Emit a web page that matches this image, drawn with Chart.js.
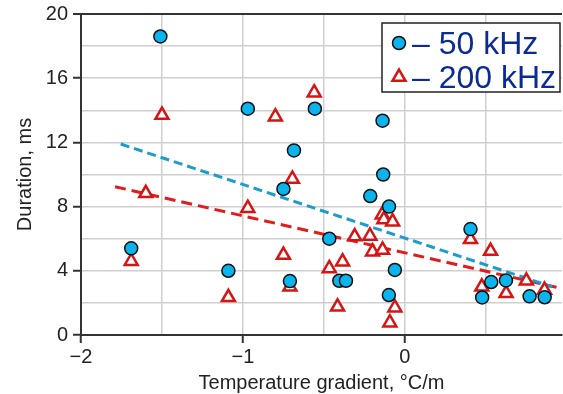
<!DOCTYPE html>
<html>
<head>
<meta charset="utf-8">
<script src="https://cdn.jsdelivr.net/npm/chart.js@4.4.1/dist/chart.umd.min.js"></script>
<style>
  html, body { margin: 0; padding: 0; background: #fff; overflow: hidden; }
  #wrap { position: relative; width: 563px; height: 394px; }
</style>
</head>
<body>
<div id="wrap"><canvas id="durationChart"></canvas></div>
<script>
// 50 kHz measurements (gradient, duration)
const grad50 = [-1.69, -1.51, -1.09, -0.97, -0.75, -0.71, -0.685, -0.556, -0.467, -0.405, -0.364,
                -0.214, -0.138, -0.134, -0.098, -0.062, -0.099, 0.405, 0.477, 0.533, 0.624, 0.77, 0.863];
const dur50  = [5.4, 18.6, 4.0, 14.1, 9.1, 3.36, 11.5, 14.1, 6.0, 3.38, 3.38,
                8.66, 13.35, 10.0, 8.0, 4.05, 2.49, 6.6, 2.34, 3.3, 3.4, 2.41, 2.35];

// 200 kHz measurements
const grad200 = [-1.69, -1.6, -1.5, -1.09, -0.97, -0.8, -0.75, -0.71, -0.695, -0.56, -0.467, -0.416,
                 -0.385, -0.31, -0.216, -0.2, -0.138, -0.14, -0.13, -0.076, -0.062, -0.093,
                 0.405, 0.475, 0.529, 0.625, 0.75, 0.862];
const dur200  = [4.6, 8.83, 13.7, 2.35, 7.9, 13.6, 4.98, 3.0, 9.72, 15.1, 4.15, 1.76,
                 4.57, 6.13, 6.17, 5.19, 5.3, 7.5, 7.2, 7.06, 1.7, 0.77,
                 5.96, 3.0, 5.23, 2.6, 3.38, 2.8];

// linear fits, end points
const fit50X  = [-1.755, 0.91];
const fit50Y  = [11.9, 3.0];
const fit200X = [-1.79, 0.936];
const fit200Y = [9.24, 2.97];

const xGrid   = [-2, -1.5, -1, -0.5, 0, 0.5];
const xLabels = [-2, -1, 0];
const yLabels = [0, 4, 8, 12, 16, 20];
const seriesNames = ["50 kHz", "200 kHz"];

const BLUE_FILL = "#0cb4ee";
const RED = "#d61414";
const AXIS = "#333333";
const GRID = "#cfcfcf";
const FONT = "Arial, 'Liberation Sans', sans-serif";

const toPoints = (xs, ys) => xs.map((x, i) => ({ x, y: ys[i] }));
const fmt = v => (v < 0 ? "\u2212" + Math.abs(v) : String(v));

// boxed legend in the top right corner
const boxLegend = {
    id: "boxLegend",
    afterDraw(chart) {
        const ctx = chart.ctx;
        ctx.save();
        ctx.fillStyle = "#fff";
        ctx.strokeStyle = "#222";
        ctx.lineWidth = 1.5;
        ctx.fillRect(382, 23, 178, 69);
        ctx.strokeRect(382, 23, 178, 69);

        // circle marker
        ctx.beginPath();
        ctx.arc(399, 43, 6.5, 0, Math.PI * 2);
        ctx.fillStyle = BLUE_FILL;
        ctx.fill();
        ctx.lineWidth = 1.5;
        ctx.strokeStyle = "#111";
        ctx.stroke();

        // triangle marker
        const r = 7.5, cx = 399, cy = 77;
        ctx.beginPath();
        for (let k = 0; k < 3; k++) {
            const a = k * 2 * Math.PI / 3;
            const px = cx + Math.sin(a) * r, py = cy - Math.cos(a) * r;
            k === 0 ? ctx.moveTo(px, py) : ctx.lineTo(px, py);
        }
        ctx.closePath();
        ctx.fillStyle = "#fff";
        ctx.fill();
        ctx.lineWidth = 2.5;
        ctx.strokeStyle = RED;
        ctx.stroke();

        ctx.fillStyle = "#0c2a96";
        ctx.font = "32px " + FONT;
        ctx.textBaseline = "alphabetic";
        ctx.fillText("\u2013 " + seriesNames[0], 412, 54);
        ctx.fillText("\u2013 " + seriesNames[1], 412, 88);
        ctx.restore();
    }
};

new Chart(document.getElementById("durationChart"), {
    type: "scatter",
    data: {
        datasets: [
            {
                label: seriesNames[0],
                data: toPoints(grad50, dur50),
                pointStyle: "circle",
                pointRadius: 6.5,
                backgroundColor: BLUE_FILL,
                borderColor: "#111",
                borderWidth: 1.5,
            },
            {
                label: seriesNames[1],
                data: toPoints(grad200, dur200),
                pointStyle: "triangle",
                pointRadius: 7.5,
                backgroundColor: "#fff",
                borderColor: RED,
                borderWidth: 2.5,
            },
            {
                label: "fit 50",
                data: toPoints(fit50X, fit50Y),
                showLine: true,
                pointRadius: 0,
                borderColor: "#1b9dcc",
                borderWidth: 3,
                borderDash: [9, 5],
            },
            {
                label: "fit 200",
                data: toPoints(fit200X, fit200Y),
                showLine: true,
                pointRadius: 0,
                borderColor: "#e01c1c",
                borderWidth: 3,
                borderDash: [11, 6],
            },
        ]
    },
    options: {
        responsive: true,
        maintainAspectRatio: false,
        animation: false,
        layout: { autoPadding: false, padding: { top: 14, right: 1, left: 0, bottom: 0 } },
        plugins: {
            legend: { display: false },
            tooltip: { enabled: false },
        },
        scales: {
            x: {
                type: "linear",
                min: -2,
                max: 0.97,
                afterBuildTicks: scale => { scale.ticks = xGrid.map(value => ({ value })); },
                afterFit: scale => {
                    scale.height = 59;
                    scale.paddingLeft = 0;
                    scale.paddingRight = 0;
                },
                ticks: {
                    autoSkip: false,
                    maxRotation: 0,
                    padding: 2,
                    color: "#222",
                    font: { family: FONT, size: 20 },
                    callback: v => (xLabels.includes(v) ? fmt(v) : ""),
                },
                grid: {
                    color: GRID,
                    lineWidth: 1.5,
                    tickLength: 8,
                    tickWidth: 2,
                    tickColor: c => (xLabels.includes(c.tick.value) ? AXIS : "rgba(0,0,0,0)"),
                },
                border: { color: AXIS, width: 2 },
                title: {
                    display: true,
                    text: "Temperature gradient, \u00b0C/m",
                    color: "#222",
                    font: { family: FONT, size: 20, lineHeight: 1 },
                    padding: { top: 0, bottom: 1 },
                },
            },
            y: {
                type: "linear",
                min: 0,
                max: 20,
                afterFit: scale => {
                    scale.width = 81;
                    scale.paddingTop = 0;
                    scale.paddingBottom = 0;
                },
                ticks: {
                    stepSize: 2,
                    autoSkip: false,
                    padding: 5,
                    color: "#222",
                    font: { family: FONT, size: 20 },
                    callback: v => (yLabels.includes(v) ? fmt(v) : ""),
                },
                grid: {
                    color: c => (c.tick.value === 20 ? AXIS : GRID),
                    lineWidth: c => (c.tick.value === 20 ? 2 : 1.5),
                    tickLength: 8,
                    tickWidth: 2,
                    tickColor: c => (yLabels.includes(c.tick.value) ? AXIS : "rgba(0,0,0,0)"),
                },
                border: { color: AXIS, width: 2 },
                title: {
                    display: true,
                    text: "Duration, ms",
                    color: "#222",
                    font: { family: FONT, size: 20, lineHeight: 1 },
                    padding: { top: 15, bottom: 0 },
                },
            },
        }
    },
    plugins: [boxLegend]
});
</script>
</body>
</html>
